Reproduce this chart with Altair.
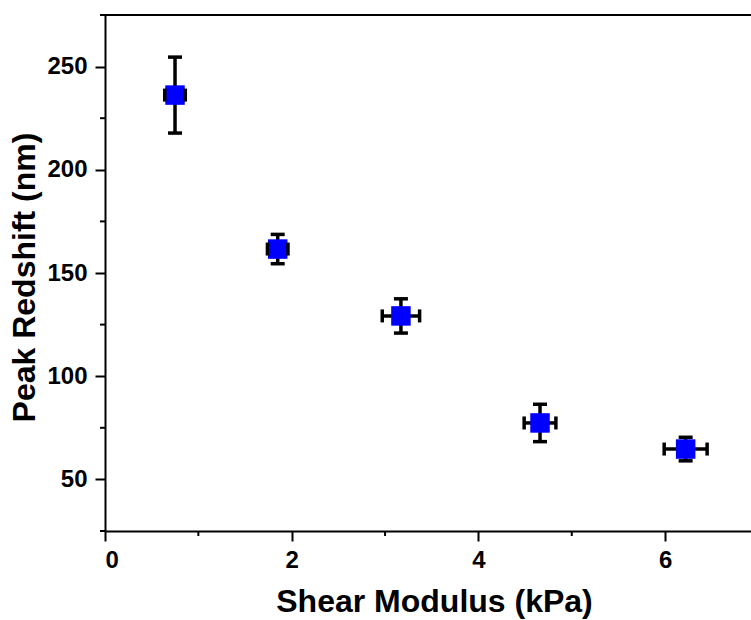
import altair as alt
import pandas as pd

# Data
shear = [0.75, 1.85, 3.17, 4.66, 6.22]
shear_err = [0.11, 0.11, 0.20, 0.17, 0.23]
redshift = [236.2, 161.6, 129.2, 77.35, 64.7]
redshift_err = [18.4, 7.1, 8.3, 9.05, 5.7]

x_major = [0, 2, 4, 6]
x_minor = [1, 3, 5]
y_major = [50, 100, 150, 200, 250]
y_minor = [25, 75, 125, 175, 225, 275]

df = pd.DataFrame({"x": shear, "xe": shear_err, "y": redshift, "ye": redshift_err})
df["xlo"] = df["x"] - df["xe"]
df["xhi"] = df["x"] + df["xe"]
df["ylo"] = df["y"] - df["ye"]
df["yhi"] = df["y"] + df["ye"]

W, H = 646, 516
FONT = "Liberation Sans"

xs = alt.Scale(domain=[0, 6.92], nice=False, zero=False)
ys = alt.Scale(domain=[25, 275], nice=False, zero=False)

xaxis = alt.Axis(values=x_major, format="d", title="Shear Modulus (kPa)", labelPadding=7,
                 titleBaseline="alphabetic", titleY=80, titleX=W / 2 + 6)
yaxis = alt.Axis(values=y_major, format="d", title="Peak Redshift (nm)", labelPadding=8,
                 titleBaseline="alphabetic", titleX=-71, titleY=H / 2 + 4)

base = alt.Chart(df)

vbar = base.mark_rule(color="black", strokeWidth=3.5).encode(
    x=alt.X("x:Q", scale=xs, axis=xaxis),
    y=alt.Y("ylo:Q", scale=ys, axis=yaxis),
    y2="yhi:Q",
)
hbar = base.mark_rule(color="black", strokeWidth=3.5).encode(
    y=alt.Y("y:Q", scale=ys), x=alt.X("xlo:Q", scale=xs), x2="xhi:Q"
)
squares = base.mark_square(size=380, color="#0000FF", opacity=1, filled=True).encode(
    x=alt.X("x:Q", scale=xs), y=alt.Y("y:Q", scale=ys)
)
ycap_lo = base.mark_tick(color="black", orient="horizontal", size=14, thickness=3.5, opacity=1).encode(
    x=alt.X("x:Q", scale=xs), y=alt.Y("ylo:Q", scale=ys)
)
ycap_hi = base.mark_tick(color="black", orient="horizontal", size=14, thickness=3.5, opacity=1).encode(
    x=alt.X("x:Q", scale=xs), y=alt.Y("yhi:Q", scale=ys)
)
xcap_lo = base.mark_tick(color="black", orient="vertical", size=13, thickness=3.5, opacity=1).encode(
    x=alt.X("xlo:Q", scale=xs), y=alt.Y("y:Q", scale=ys)
)
xcap_hi = base.mark_tick(color="black", orient="vertical", size=13, thickness=3.5, opacity=1).encode(
    x=alt.X("xhi:Q", scale=xs), y=alt.Y("y:Q", scale=ys)
)

xminor = alt.Chart(pd.DataFrame({"v": x_minor})).mark_rule(color="black", strokeWidth=2).encode(
    x=alt.X("v:Q", scale=xs), y=alt.value(H), y2=alt.value(H + 5)
)
yminor = alt.Chart(pd.DataFrame({"v": y_minor})).mark_rule(color="black", strokeWidth=2).encode(
    y=alt.Y("v:Q", scale=ys), x=alt.value(-5), x2=alt.value(0)
)
topline = alt.Chart(pd.DataFrame({"v": [0]})).mark_rule(color="black", strokeWidth=2).encode(
    x=alt.value(0), x2=alt.value(W), y=alt.value(0)
)

chart = alt.layer(
    vbar, hbar, squares, ycap_lo, ycap_hi, xcap_lo, xcap_hi, xminor, yminor, topline
).properties(
    width=W, height=H,
    autosize=alt.AutoSizeParams(type="none"),
    padding={"left": 105, "top": 15, "right": 0, "bottom": 89},
    background="white",
).configure_view(stroke=None).configure_axis(
    grid=False,
    domainColor="black", domainWidth=2,
    tickColor="black", tickWidth=2, tickSize=10,
    labelFont=FONT, labelFontSize=24, labelFontWeight="bold", labelColor="black",
    titleFont=FONT, titleFontSize=32, titleFontWeight="bold", titleColor="black",
)

chart.save("out.html", embed_options={"renderer": "svg", "actions": False})
